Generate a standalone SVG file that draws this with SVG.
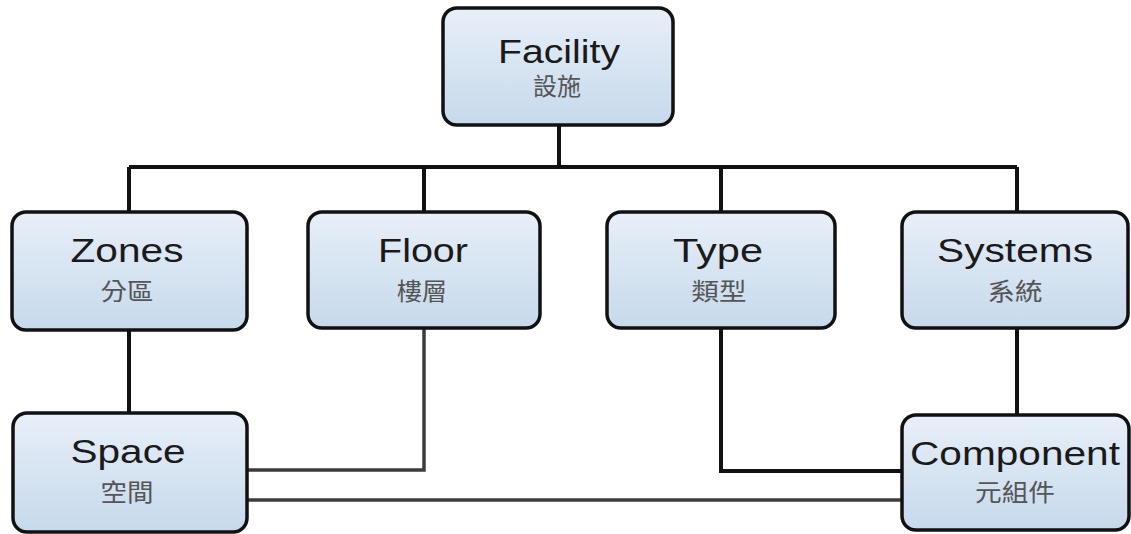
<svg xmlns="http://www.w3.org/2000/svg" width="1131" height="534" viewBox="0 0 1131 534">
  <defs>
    <linearGradient id="boxFill" x1="0" y1="0" x2="0" y2="1">
      <stop offset="0" stop-color="#e8eff8"/>
      <stop offset="1" stop-color="#c6d9ec"/>
    </linearGradient>
  </defs>
  <style>
    .box { fill: url(#boxFill); stroke: #111; stroke-width: 3.5; }
    .en { font-family: "Liberation Sans", Arial, sans-serif; font-size: 34px; fill: #1a1a1a; text-anchor: middle; }
    .zh { font-family: "Liberation Sans", "Noto Sans CJK TC", sans-serif; font-size: 24px; fill: #555; text-anchor: middle; }
    .wire { fill: none; stroke: #111; stroke-width: 4; }
    .wire-thin { fill: none; stroke: #3c3c3c; stroke-width: 3.5; }
  </style>

  <rect width="1131" height="534" fill="#ffffff"/>

  <!-- connectors -->
  <g id="connectors">
    <path class="wire" d="M559,125 V167"/>
    <path class="wire" d="M129,167 H1017"/>
    <path class="wire" d="M129,167 V212"/>
    <path class="wire" d="M424,167 V212"/>
    <path class="wire" d="M721,167 V212"/>
    <path class="wire" d="M1017,167 V212"/>
    <path class="wire" d="M129,330 V413"/>
    <path class="wire" d="M1017,328 V415"/>
    <path class="wire-thin" d="M424,328 V470 H247"/>
    <path class="wire" d="M721,328 V471 H902"/>
    <path class="wire-thin" d="M247,500 H902"/>
  </g>

  <g id="facility">
    <rect class="box" x="443" y="8" width="230" height="117" rx="14"/>
    <text class="en" x="559" y="63" textLength="122" lengthAdjust="spacingAndGlyphs">Facility</text>
    <text class="zh" x="557" y="95" textLength="48" lengthAdjust="spacingAndGlyphs">設施</text>
  </g>

  <g id="zones">
    <rect class="box" x="12" y="212" width="235" height="118" rx="14"/>
    <text class="en" x="127" y="262" textLength="113" lengthAdjust="spacingAndGlyphs">Zones</text>
    <text class="zh" x="127" y="300" textLength="53" lengthAdjust="spacingAndGlyphs">分區</text>
  </g>

  <g id="floor">
    <rect class="box" x="308" y="212" width="232" height="116" rx="14"/>
    <text class="en" x="423" y="262" textLength="90" lengthAdjust="spacingAndGlyphs">Floor</text>
    <text class="zh" x="422" y="300" textLength="50" lengthAdjust="spacingAndGlyphs">樓層</text>
  </g>

  <g id="type">
    <rect class="box" x="607" y="212" width="228" height="116" rx="14"/>
    <text class="en" x="718" y="262" textLength="90" lengthAdjust="spacingAndGlyphs">Type</text>
    <text class="zh" x="719" y="300" textLength="55" lengthAdjust="spacingAndGlyphs">類型</text>
  </g>

  <g id="systems">
    <rect class="box" x="902" y="212" width="226" height="116" rx="14"/>
    <text class="en" x="1015" y="262" textLength="156" lengthAdjust="spacingAndGlyphs">Systems</text>
    <text class="zh" x="1015" y="300" textLength="55" lengthAdjust="spacingAndGlyphs">系統</text>
  </g>

  <g id="space">
    <rect class="box" x="13" y="413" width="234" height="119" rx="14"/>
    <text class="en" x="128" y="463" textLength="115" lengthAdjust="spacingAndGlyphs">Space</text>
    <text class="zh" x="127" y="501" textLength="53" lengthAdjust="spacingAndGlyphs">空間</text>
  </g>

  <g id="component">
    <rect class="box" x="902" y="415" width="227" height="115" rx="14"/>
    <text class="en" x="1015" y="465" textLength="210" lengthAdjust="spacingAndGlyphs">Component</text>
    <text class="zh" x="1015" y="501" textLength="80" lengthAdjust="spacingAndGlyphs">元組件</text>
  </g>
</svg>
